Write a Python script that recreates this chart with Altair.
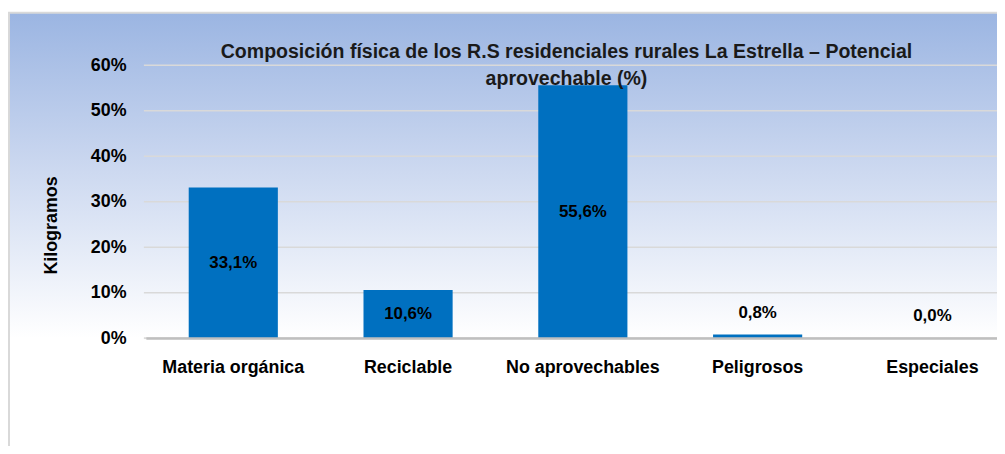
import altair as alt
import pandas as pd

# ---- data ----
categories = ["Materia orgánica", "Reciclable", "No aprovechables", "Peligrosos", "Especiales"]
values = [0.331, 0.106, 0.556, 0.008, 0.0]
y_ticks = [0.0, 0.1, 0.2, 0.3, 0.4, 0.5, 0.6]
title_lines = ["Composición física de los R.S residenciales rurales La Estrella – Potencial",
               "aprovechable (%)"]
y_title = "Kilogramos"

FONT = "Liberation Sans"
W, H = 860, 275
PAD_L, PAD_T = 137, 56

df = pd.DataFrame({"cat": categories, "v": values})
grid_df = pd.DataFrame({"v": y_ticks})
one = pd.DataFrame({"k": [0]})

x_enc = alt.X(
    "cat:N", sort=categories, title=None,
    scale=alt.Scale(paddingInner=0.49, paddingOuter=0.245, range=[2, 883]),
    axis=alt.Axis(labelAngle=0, labelFontSize=18, labelFontWeight="bold", labelFont=FONT,
                  labelColor="#000000", labelPadding=21, ticks=False, grid=False,
                  domainColor="#bfbfbf", domainWidth=2.5, zindex=1),
)
y_enc = alt.Y(
    "v:Q", title=y_title,
    scale=alt.Scale(domain=[0, 0.6], nice=False, zero=True),
    axis=alt.Axis(values=y_ticks, format=".0%", grid=False, ticks=False, domain=False,
                  labelFontSize=18, labelFontWeight="bold", labelFont=FONT, labelColor="#000000",
                  labelPadding=18, titleFont=FONT, titleFontSize=18, titleFontWeight="bold",
                  titleColor="#000000", titleX=-93, titleY=161, titleAngle=270,
                  titleBaseline="middle", titleAlign="center", zindex=1),
)

grad = alt.Gradient(
    gradient="linear", x1=0, y1=0, x2=0, y2=1,
    stops=[alt.GradientStop(color="#9BB5E2", offset=0),
           alt.GradientStop(color="#C9D6EF", offset=0.45),
           alt.GradientStop(color="#FFFFFF", offset=1)],
)

bg = alt.Chart(one).mark_rect(fill=grad, clip=False).encode(
    x=alt.value(-PAD_L), x2=alt.value(W + 20), y=alt.value(-PAD_T + 3), y2=alt.value(H)
)
border = alt.Chart(one).mark_rect(fillOpacity=0, stroke="#d9d9d9", strokeWidth=2, clip=False).encode(
    x=alt.value(-PAD_L + 1), x2=alt.value(W + 40), y=alt.value(-PAD_T + 3), y2=alt.value(H + 300)
)
grid = alt.Chart(grid_df).mark_rule(color="#d9d9d9", strokeWidth=1.5).encode(
    y=alt.Y("v:Q"), x=alt.value(0), x2=alt.value(W + 20)
)
bars = alt.Chart(df).mark_bar(color="#0070C0").encode(x=x_enc, y=y_enc)

label_expr = "replace(format(datum.v * 100, '.1f'), '.', ',') + '%'"
text_in = alt.Chart(df).transform_filter("datum.v >= 0.05").transform_calculate(
    lbl=label_expr, mid="datum.v / 2"
).mark_text(font=FONT, fontSize=17, fontWeight="bold", color="#000000", baseline="middle").encode(
    x=alt.X("cat:N", sort=categories), y=alt.Y("mid:Q"), text="lbl:N"
)
text_out = alt.Chart(df).transform_filter("datum.v < 0.05").transform_calculate(
    lbl=label_expr
).mark_text(font=FONT, fontSize=17, fontWeight="bold", color="#000000", baseline="bottom", dy=-13).encode(
    x=alt.X("cat:N", sort=categories), y=alt.Y("v:Q"), text="lbl:N"
)

chart = alt.layer(bg, border, grid, bars, text_in, text_out).properties(
    width=W, height=H,
    autosize=alt.AutoSizeParams(type="none"),
    padding={"left": PAD_L, "top": PAD_T, "right": 0, "bottom": 107},
    title=alt.TitleParams(text=title_lines, font=FONT, fontSize=19.7, fontWeight="bold",
                          color="#1a1a1a", anchor="middle", offset=-22, lineHeight=28,
                          dx=-4, dy=56, zindex=1),
).configure_view(stroke=None).configure(background="#ffffff")

chart.save("out.html", embed_options={"renderer": "svg", "actions": False})
